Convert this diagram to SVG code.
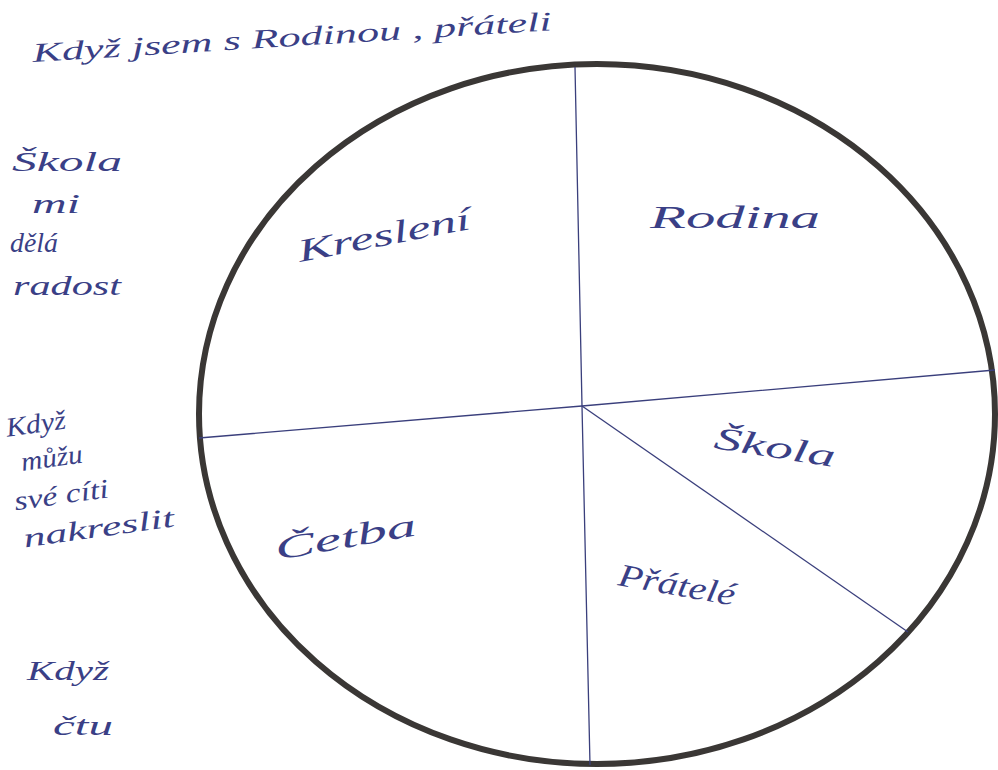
<svg xmlns="http://www.w3.org/2000/svg" width="998" height="770" viewBox="0 0 998 770">
<style>
.t{font-family:"Liberation Serif","DejaVu Serif",serif;font-style:italic;fill:#3a3f86;}
.s{font-size:27px;}
.m{font-size:32px;}
.ln{stroke:#3a3f7c;stroke-width:1.3;fill:none;}
</style>
<rect width="998" height="770" fill="#ffffff"/>
<g id="pie">
<ellipse cx="597" cy="414" rx="398" ry="350" fill="none" stroke="#3a3735" stroke-width="6"/>
</g>
<g id="connectors">
<path class="ln" d="M575,67 L582,406 L590,765"/>
<path class="ln" d="M199,438 L582,406 L995,370"/>
<path class="ln" d="M582,406 L908,632"/>
</g>
<g id="title"><text class="t s" x="33" y="62" textLength="520" lengthAdjust="spacingAndGlyphs" transform="rotate(-3.5 33 62)">Když  jsem  s Rodinou , přáteli</text></g>
<g id="left1">
<text class="t s" x="12" y="171" textLength="110" lengthAdjust="spacingAndGlyphs">Škola</text>
<text class="t s" x="32" y="213" textLength="48" lengthAdjust="spacingAndGlyphs">mi</text>
<text class="t s" x="10" y="252" textLength="48" lengthAdjust="spacingAndGlyphs">dělá</text>
<text class="t s" x="13" y="295" textLength="108" lengthAdjust="spacingAndGlyphs">radost</text>
</g>
<g id="left2" transform="rotate(-8 15 470)">
<text class="t s" x="12" y="436" textLength="60" lengthAdjust="spacingAndGlyphs">Když</text>
<text class="t s" x="22" y="472" textLength="62" lengthAdjust="spacingAndGlyphs">můžu</text>
<text class="t s" x="10" y="510" textLength="95" lengthAdjust="spacingAndGlyphs">své cíti</text>
<text class="t s" x="14" y="548" textLength="152" lengthAdjust="spacingAndGlyphs">nakreslit</text>
</g>
<g id="left3">
<text class="t s" x="27" y="680" textLength="82" lengthAdjust="spacingAndGlyphs">Když</text>
<text class="t s" x="53" y="735" textLength="60" lengthAdjust="spacingAndGlyphs">čtu</text>
</g>
<g id="kresleni"><text class="t m" x="300" y="262" textLength="175" lengthAdjust="spacingAndGlyphs" transform="rotate(-11 300 262)">Kreslení</text></g>
<g id="rodina"><text class="t m" x="650" y="228" textLength="170" lengthAdjust="spacingAndGlyphs">Rodina</text></g>
<g id="skola"><text class="t m" x="713" y="448" textLength="122" lengthAdjust="spacingAndGlyphs" transform="rotate(9 713 448)">Škola</text></g>
<g id="cetba"><text class="t m" x="277" y="560" textLength="143" lengthAdjust="spacingAndGlyphs" transform="rotate(-10 277 560)">Četba</text></g>
<g id="pratele"><text class="t m" x="617" y="585" textLength="118" lengthAdjust="spacingAndGlyphs" transform="rotate(10 617 585)">Přátelé</text></g>
</svg>
